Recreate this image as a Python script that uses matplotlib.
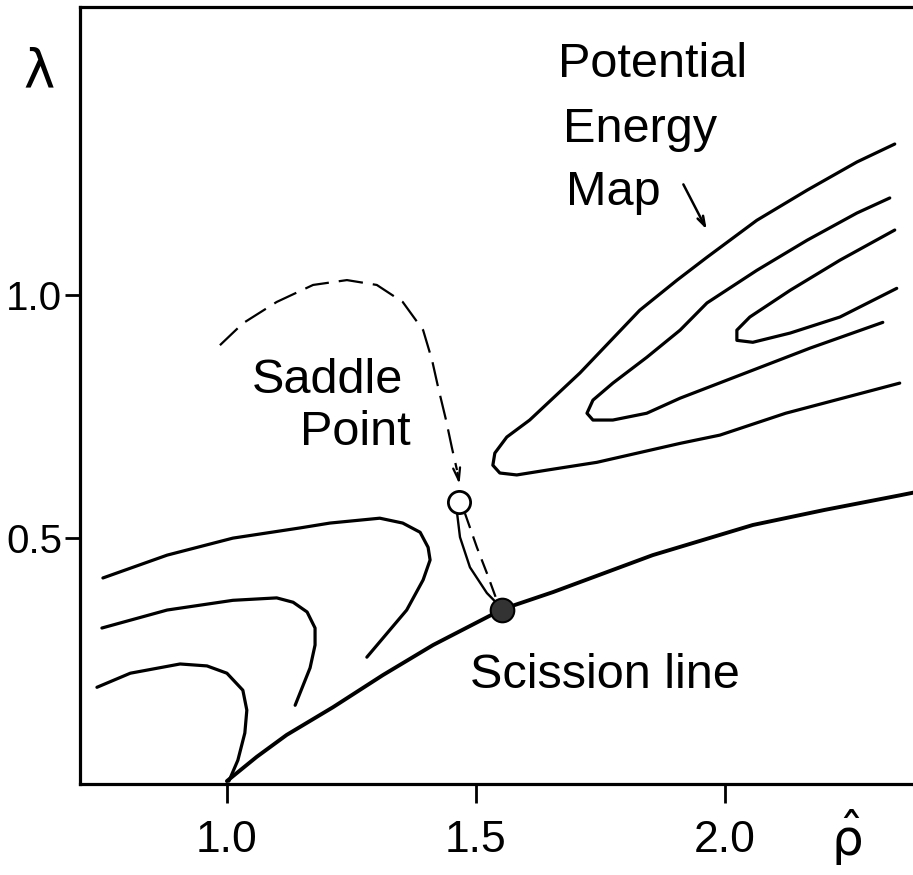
import matplotlib
matplotlib.use("Agg")
import matplotlib.pyplot as plt

# ---- data (rho_hat, lambda) ----
scission_x = [1.000, 1.060, 1.120, 1.213, 1.313, 1.414, 1.554, 1.655, 1.855, 2.056, 2.200, 2.351, 2.390]
scission_y = [0.000, 0.050, 0.095, 0.152, 0.218, 0.280, 0.354, 0.389, 0.465, 0.527, 0.558, 0.588, 0.596]

contA_x = [0.751, 0.880, 1.012, 1.147, 1.207, 1.307, 1.353, 1.388, 1.404, 1.408, 1.394, 1.361, 1.281]
contA_y = [0.418, 0.465, 0.500, 0.521, 0.531, 0.541, 0.531, 0.512, 0.481, 0.455, 0.414, 0.352, 0.255]

contB_x = [0.749, 0.880, 1.012, 1.100, 1.133, 1.161, 1.177, 1.177, 1.167, 1.137]
contB_y = [0.315, 0.352, 0.372, 0.377, 0.368, 0.348, 0.315, 0.280, 0.233, 0.156]

contC_x = [0.739, 0.806, 0.906, 0.960, 1.000, 1.032, 1.040, 1.036, 1.022, 1.004]
contC_y = [0.193, 0.222, 0.241, 0.237, 0.222, 0.187, 0.146, 0.099, 0.043, 0.000]

contD_x = [2.351, 2.122, 1.990, 1.910, 1.743, 1.643, 1.582, 1.548, 1.534, 1.538, 1.562,
           1.608, 1.709, 1.829, 1.904, 1.964, 2.064, 2.165, 2.265, 2.341]
contD_y = [0.819, 0.757, 0.712, 0.695, 0.656, 0.640, 0.630, 0.634, 0.650, 0.675, 0.708,
           0.743, 0.840, 0.969, 1.031, 1.078, 1.154, 1.216, 1.274, 1.311]

contE_x = [2.331, 2.265, 2.165, 2.064, 1.964, 1.910, 1.843, 1.775, 1.735, 1.723, 1.735,
           1.775, 1.843, 1.910, 2.171, 2.317]
contE_y = [1.200, 1.169, 1.113, 1.051, 0.984, 0.928, 0.872, 0.819, 0.784, 0.757, 0.743,
           0.743, 0.757, 0.788, 0.891, 0.944]

contF_x = [2.341, 2.231, 2.131, 2.050, 2.024, 2.024, 2.056, 2.131, 2.231, 2.345]
contF_y = [1.134, 1.072, 1.010, 0.955, 0.928, 0.907, 0.903, 0.922, 0.955, 1.014]

path_x = [0.986, 1.032, 1.100, 1.173, 1.241, 1.301, 1.353, 1.394, 1.412, 1.424, 1.440, 1.452, 1.462]
path_y = [0.897, 0.942, 0.986, 1.021, 1.031, 1.021, 0.986, 0.928, 0.866, 0.811, 0.743, 0.685, 0.640]
path_tip = (1.468, 0.605)

saddle_pt = (1.466, 0.574)
scission_pt = (1.552, 0.352)

desc_x = [1.462, 1.468, 1.488, 1.522, 1.542]
desc_y = [0.553, 0.502, 0.440, 0.387, 0.366]
desc2_x = [1.478, 1.502, 1.522, 1.542]
desc2_y = [0.551, 0.481, 0.428, 0.372]

xticks = [1.0, 1.5, 2.0]
xticklabels = ["1.0", "1.5", "2.0"]
yticks = [0.5, 1.0]
yticklabels = ["0.5", "1.0"]

# ---- figure ----
W, H = 913, 875
fig = plt.figure(figsize=(W / 100, H / 100), dpi=100)
ax = fig.add_axes([80 / W, 1 - 784 / H, 1.0 - 80 / W + 0.01, (784 - 7) / H])
ax.set_xlim(0.705, 2.396)
ax.set_ylim(-0.006, 1.593)

for s in ["left", "bottom", "top"]:
    ax.spines[s].set_linewidth(2.3)
ax.spines["right"].set_visible(False)

LW = 2.3
kw = dict(color="black", lw=LW, solid_capstyle="round", solid_joinstyle="round")
ax.plot(scission_x, scission_y, color="black", lw=2.8, solid_capstyle="round", solid_joinstyle="round")
for cx, cy in [(contA_x, contA_y), (contB_x, contB_y), (contC_x, contC_y),
               (contD_x, contD_y), (contE_x, contE_y), (contF_x, contF_y)]:
    ax.plot(cx, cy, **kw)

# dashed path to saddle
ax.plot(path_x, path_y, color="black", lw=1.6, dashes=(11, 4.5))
ax.annotate("", xy=path_tip, xytext=(path_x[-1], path_y[-1]),
            arrowprops=dict(arrowstyle="->,head_length=0.9,head_width=0.25", color="black", lw=1.6))

# descent from saddle to scission
ax.plot(desc_x, desc_y, color="black", lw=1.7, solid_capstyle="round")
ax.plot(desc2_x, desc2_y, color="black", lw=1.6, dashes=(7, 4))

ax.plot([saddle_pt[0]], [saddle_pt[1]], "o", ms=16, mfc="white", mec="black", mew=2.0, zorder=5)
ax.plot([scission_pt[0]], [scission_pt[1]], "o", ms=17, mfc="#333333", mec="black", mew=1.5, zorder=5)

# ticks
ax.set_xticks(xticks)
ax.set_xticklabels(xticklabels, fontdict=dict(family=["Liberation Sans", "DejaVu Sans"], size=32))
ax.set_yticks(yticks)
ax.set_yticklabels(yticklabels, fontdict=dict(family=["Liberation Sans", "DejaVu Sans"], size=29))
ax.tick_params(axis="x", direction="out", length=14, width=2, pad=12)
ax.tick_params(axis="y", direction="out", length=11, width=2, pad=2)

lf = dict(family=["Liberation Sans", "DejaVu Sans"], size=35, color="black")
ax.text(1.201, 0.798, "Saddle", ha="center", va="baseline", **lf)
ax.text(1.257, 0.691, "Point", ha="center", va="baseline", **lf)
ax.text(1.665, 1.449, "Potential", ha="left", va="baseline", **lf)
ax.text(1.675, 1.315, "Energy", ha="left", va="baseline", **lf)
ax.text(1.681, 1.185, "Map", ha="left", va="baseline", **lf)
ax.text(1.488, 0.191, "Scission line", ha="left", va="baseline", **lf)

ax.annotate("", xy=(1.966, 1.130), xytext=(1.914, 1.233),
            arrowprops=dict(arrowstyle="->,head_length=0.7,head_width=0.22", color="black", lw=1.8))

fig.text(39 / W, 1 - 72 / H, "λ", ha="center", va="center",
         family=["DejaVu Sans"], size=38)
plt.rcParams["mathtext.fontset"] = "dejavusans"
fig.text(846 / W, 1 - 838 / H, r"$\hat{\mathrm{\rho}}$", ha="center", va="center", size=36)

fig.savefig("out.png", dpi=100)
